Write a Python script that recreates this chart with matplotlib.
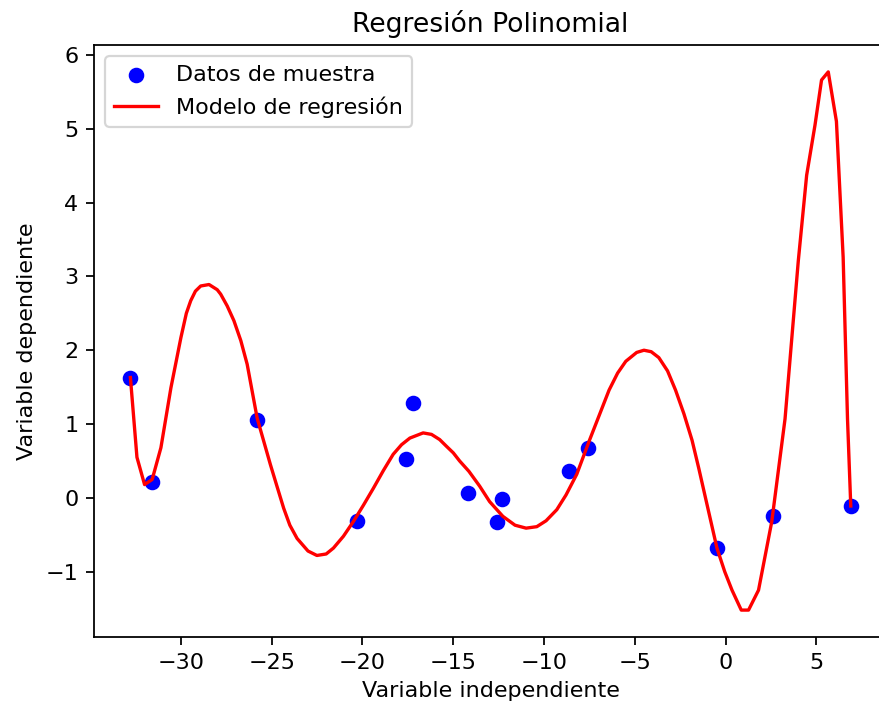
#!/usr/bin/env python

# regresion polinomial: puntos de muestra + curva del modelo

from matplotlib import pyplot as plt

# datos de muestra
x_muestra = [-32.8, -31.6, -25.8, -20.3, -17.6, -17.2, -14.2, -12.6, -12.3, -8.6, -7.6, -0.5, 2.6, 6.9]
y_muestra = [1.63, 0.22, 1.05, -0.31, 0.52, 1.28, 0.07, -0.33, -0.01, 0.37, 0.67, -0.68, -0.24, -0.11]

# curva del modelo
x_modelo = [-32.78, -32.42, -32.0, -31.58, -31.1, -30.55, -30.0, -29.7, -29.46, -29.2,
            -28.91, -28.45, -28.0, -27.81, -27.45, -27.08, -26.7, -26.35, -25.8, -25.07,
            -24.7, -24.34, -24.0, -23.6, -23.0, -22.51, -22.0, -21.6, -21.05, -20.5,
            -19.95, -19.4, -18.85, -18.31, -17.85, -17.39, -16.66, -16.2, -15.75, -15.38,
            -15.0, -14.65, -14.14, -13.55, -13.0, -12.27, -11.6, -10.99, -10.4, -9.89,
            -9.3, -8.79, -8.2, -7.5, -6.42, -5.95, -5.5, -4.9, -4.5, -4.1,
            -3.68, -3.2, -2.76, -2.3, -1.85, -1.48, -1.11, -0.48, -0.05, 0.35,
            0.86, 1.26, 1.81, 2.54, 3.27, 4.0, 4.46, 4.92, 5.28, 5.65,
            6.1, 6.47, 6.71, 6.89]
y_modelo = [1.63, 0.55, 0.18, 0.25, 0.68, 1.49, 2.17, 2.5, 2.67, 2.8,
            2.87, 2.89, 2.82, 2.76, 2.6, 2.4, 2.13, 1.81, 1.08, 0.45,
            0.15, -0.14, -0.37, -0.55, -0.72, -0.78, -0.76, -0.68, -0.52, -0.32,
            -0.1, 0.13, 0.37, 0.59, 0.72, 0.81, 0.88, 0.86, 0.79, 0.7,
            0.61, 0.5, 0.36, 0.16, -0.05, -0.25, -0.37, -0.41, -0.39, -0.31,
            -0.16, 0.04, 0.32, 0.78, 1.46, 1.69, 1.85, 1.97, 2.0, 1.98,
            1.9, 1.72, 1.46, 1.14, 0.78, 0.4, 0.0, -0.68, -1.0, -1.25,
            -1.52, -1.52, -1.25, -0.32, 1.07, 3.21, 4.37, 5.05, 5.66, 5.77,
            5.1, 3.26, 1.07, -0.11]

fig = plt.figure(figsize=(879 / 160, 706 / 160), dpi=160)
# la captura original corta el borde derecho del grafico
ax = fig.add_axes([94 / 879, 69 / 706, 793 / 879, 592 / 706])

ax.scatter(x_muestra, y_muestra, color='blue', label='Datos de muestra')
ax.plot(x_modelo, y_modelo, color='red', label='Modelo de regresión')
ax.set_xlabel('Variable independiente')
ax.set_ylabel('Variable dependiente')
ax.set_title('Regresión Polinomial')
ax.legend(loc='upper left')

plt.savefig('out.png', dpi=160)
